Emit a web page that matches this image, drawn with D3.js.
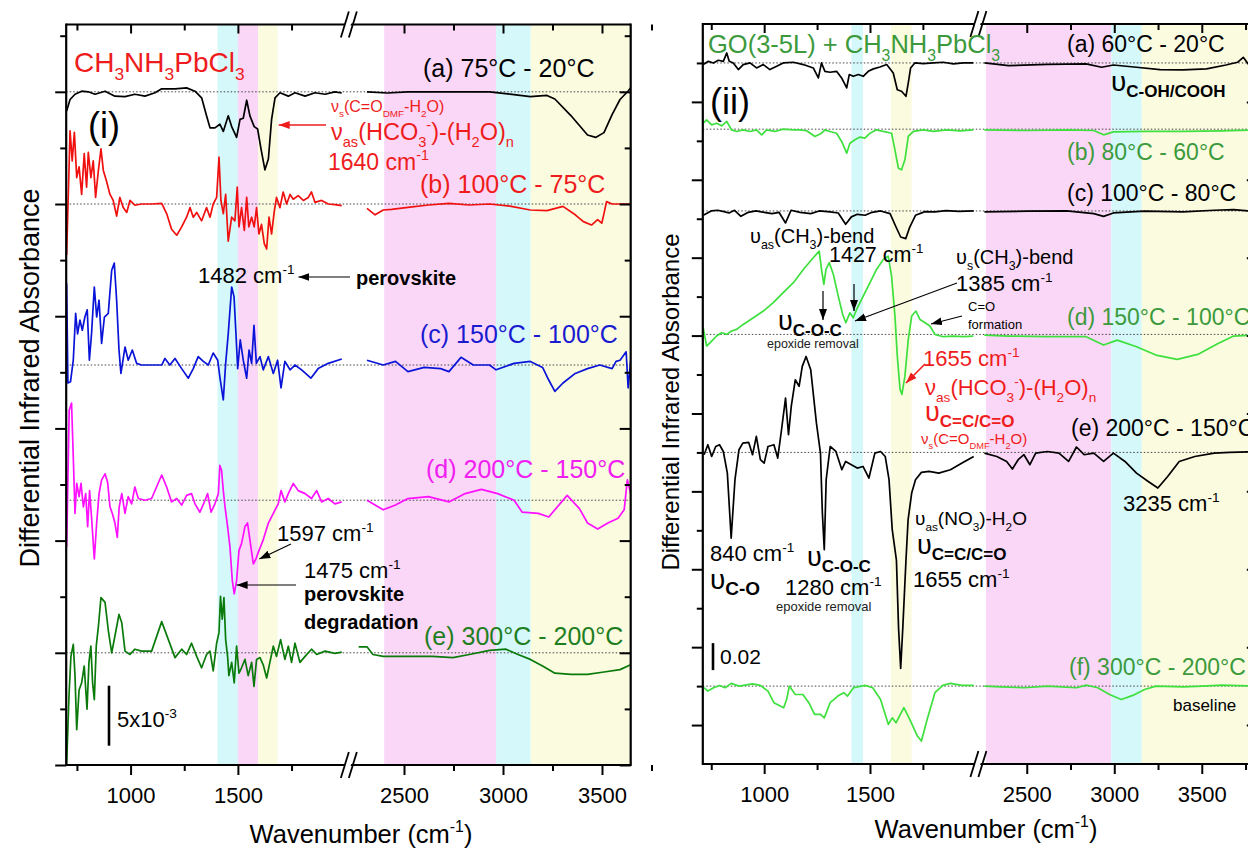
<!DOCTYPE html>
<html>
<head>
<meta charset="utf-8">
<script src="https://cdn.jsdelivr.net/npm/d3@7"></script>
<style>
  body { margin: 0; background: #fff; }
  svg text { font-family: "Liberation Sans", Arial, sans-serif; }
</style>
</head>
<body>
<div id="chart"></div>
<script>
// ---- data: [wavenumber (cm-1), differential absorbance (x1e-3)] ----
var leftA = [[702,-1.6],[718,-0.64],[741,-0.2],[772,0.05],[803,0],[834,-0.2],[881,0.05],[927,-0.36],[974,-0.4],[1020,-0.2],[1067,-0.36],[1114,-0.08],[1145,0.25],[1207,0.25],[1261,0.33],[1300,0.05],[1331,-0.5],[1354,-2.0],[1370,-3.0],[1393,-3.0],[1416,-2.7],[1432,-3.3],[1455,-2.0],[1471,-2.9],[1494,-3.8],[1510,-2.3],[1525,-2.2],[1541,-0.7],[1556,-2.0],[1576,-2.9],[1592,-3.1],[1607,-4.7],[1626,-6.5],[1642,-5.6],[1657,-2.3],[1673,-0.5],[1696,-0.08],[1735,-0.36],[1766,-0.08],[1813,-0.36],[1859,-0.08],[1906,-0.2],[1952,0],[1984,-0.1],
  [2247,-0.17],[2313,0],[2417,-0.1],[2520,0],[2727,0],[2932,0],[3035,-0.2],[3138,-0.4],[3222,-0.3],[3262,-0.6],[3344,-2.0],[3427,-3.6],[3468,-3.8],[3510,-3.4],[3551,-1.9],[3591,-0.64],[3631,0.05],[3645,0.33]];
var leftB = [[702,-4.25],[718,6.1],[728,3.6],[738,5.97],[749,2.2],[760,3.1],[772,0.8],[784,4.2],[795,1.4],[803,4.3],[815,2.2],[826,3.6],[837,0.55],[850,2.8],[862,4.6],[873,2.8],[888,1.9],[904,0.8],[919,0.3],[935,-1.0],[950,0.55],[966,-0.3],[982,-0.7],[997,0.3],[1020,-0.1],[1051,0],[1098,0],[1145,0.05],[1168,-0.8],[1191,-2.1],[1215,-2.6],[1238,-1.9],[1261,-1.1],[1277,-0.3],[1292,-1.1],[1308,-0.7],[1331,-1.4],[1354,-0.3],[1370,-1.1],[1385,0],[1401,0.55],[1412,3.9],[1421,0.3],[1432,-0.8],[1443,0.8],[1455,-3.1],[1471,-1.1],[1486,-1.4],[1497,1.4],[1505,-1.9],[1517,-0.3],[1530,-2.2],[1541,0.55],[1551,-1.9],[1564,-1.1],[1576,-1.9],[1587,-0.3],[1598,-2.5],[1610,-1.7],[1623,-3.3],[1634,-3.75],[1645,-1.1],[1657,-2.5],[1670,-0.55],[1680,0.55],[1696,-0.3],[1711,1.0],[1727,0],[1743,0.8],[1758,0.4],[1781,0.7],[1805,0.3],[1828,0.55],[1843,1.0],[1859,0.14],[1890,0.3],[1921,0],[1952,-0.05],[1984,-0.14],
  [2247,-0.08],[2313,-0.36],[2354,-0.9],[2395,-0.5],[2437,-0.44],[2520,-0.28],[2623,-0.08],[2727,0.05],[2830,-0.08],[2932,0],[3035,-0.17],[3138,-0.5],[3222,-0.55],[3303,-0.2],[3365,-0.9],[3406,-1.47],[3447,-1.75],[3478,-1.3],[3499,-1.6],[3510,-0.8],[3523,0.2],[3551,0],[3645,0]];
var leftC = [[702,6.8],[708,-1.5],[720,-1.4],[733,0.4],[744,4.3],[753,2.6],[764,3.75],[775,2.9],[787,4.0],[798,4.6],[808,0.4],[818,2.6],[831,6.5],[842,4.0],[853,5.4],[865,1.8],[878,4.0],[896,4.3],[912,7.9],[924,8.5],[935,5.4],[946,1.25],[955,-0.7],[974,1.5],[989,0.4],[1008,1.25],[1028,0.14],[1051,0],[1114,0],[1145,0],[1160,0.55],[1183,0],[1207,0.55],[1238,-0.3],[1269,-1.1],[1292,-0.3],[1315,0.7],[1339,0.3],[1362,0],[1385,1.0],[1406,0.4],[1416,-1.0],[1432,-2.9],[1443,0.14],[1455,2.6],[1471,6.5],[1482,5.7],[1491,2.6],[1499,-0.3],[1511,2.1],[1525,0.4],[1541,-1.1],[1552,1.25],[1564,0.14],[1575,3.3],[1586,0.14],[1603,0.7],[1618,-0.4],[1642,0.7],[1665,-0.7],[1685,0.4],[1701,-1.9],[1719,0.3],[1743,-0.4],[1766,0],[1797,-0.4],[1840,-1.1],[1874,-0.3],[1921,0.14],[1984,0.5],
  [2247,0.5],[2313,0.4],[2395,0],[2457,0.3],[2520,-0.55],[2602,-0.2],[2685,-0.3],[2727,-0.55],[2788,0.64],[2850,0],[2932,0],[2965,-0.4],[3056,0.14],[3138,0.3],[3200,-0.2],[3231,-1.25],[3262,-2.2],[3303,-1.5],[3365,-0.7],[3427,-0.3],[3489,0],[3551,-0.3],[3571,0.3],[3591,0.4],[3622,1.1],[3632,-1.9],[3645,0.4]];
var leftD = [[702,-3.9],[714,7.5],[725,8.1],[733,3.6],[741,-1.1],[749,1.4],[760,0.3],[769,1.4],[780,-0.55],[791,0.55],[800,-2.2],[809,0.8],[818,-1.4],[831,-4.9],[842,-1.9],[853,0.55],[865,1.7],[881,2.2],[893,1.5],[904,-0.55],[915,-1.1],[927,-1.9],[938,-3.1],[947,-0.55],[959,0.55],[974,-1.1],[989,0.3],[1005,-0.3],[1020,1.1],[1036,0.14],[1067,0],[1098,0.14],[1145,2.1],[1168,1.1],[1191,-0.14],[1215,0.14],[1238,-0.4],[1261,0.4],[1284,0.55],[1300,-0.3],[1323,-1.0],[1347,0],[1359,0.55],[1375,-1.0],[1393,-0.3],[1409,0.55],[1416,2.9],[1424,2.5],[1432,0.8],[1440,-0.55],[1452,-2.2],[1463,-3.9],[1474,-6.7],[1483,-7.8],[1494,-6.7],[1505,-4.2],[1517,-3.6],[1533,-2.2],[1545,-1.9],[1556,-3.3],[1572,-5.3],[1584,-4.9],[1598,-4.2],[1618,-3.3],[1642,-1.9],[1665,-1.1],[1688,-0.3],[1701,0.8],[1719,-0.14],[1735,0.55],[1758,1.4],[1781,0.8],[1813,0.55],[1843,0.14],[1867,0.8],[1890,-0.14],[1921,0.14],[1952,-0.3],[1984,-0.14],
  [2247,0.14],[2313,0],[2395,-0.8],[2457,-0.4],[2520,0.14],[2623,0.3],[2727,-0.14],[2809,0.55],[2891,0.9],[2973,0.55],[3056,0],[3097,-1.0],[3179,-1.1],[3231,-1.4],[3324,0.4],[3386,-0.7],[3427,-1.9],[3478,-2.4],[3530,-1.9],[3581,-1.5],[3612,-0.8],[3628,1.7],[3645,0.55]];
var leftE = [[702,-9.3],[713,-3.6],[722,-0.3],[733,0.7],[741,-1.9],[749,-6.4],[760,-3.1],[772,-2.5],[784,-1.1],[797,-4.7],[806,-0.8],[815,0.55],[823,-2.5],[831,-3.9],[840,0.55],[850,2.2],[862,4.6],[881,4.2],[896,1.9],[912,0],[927,1.4],[946,3.2],[959,2.5],[974,0.14],[997,-0.14],[1020,0.3],[1051,0.14],[1098,0.14],[1145,2.6],[1176,1.1],[1207,-0.4],[1238,0.3],[1261,-0.14],[1284,0.8],[1308,-0.3],[1331,-1.25],[1354,-0.14],[1370,0.14],[1385,-1.5],[1401,0.8],[1412,1.7],[1419,4.7],[1427,2.8],[1435,4.6],[1443,1.1],[1452,-0.3],[1458,-1.9],[1471,-0.8],[1483,-2.5],[1494,0.55],[1505,-1.7],[1517,-1.25],[1533,-0.55],[1548,-1.9],[1564,-0.8],[1575,-2.8],[1587,-0.55],[1603,-0.4],[1618,-1.0],[1634,-2.1],[1649,-0.8],[1665,0.55],[1680,-0.3],[1699,1.1],[1719,-0.55],[1735,0.55],[1750,-0.8],[1766,0.8],[1789,-0.8],[1813,-0.3],[1843,0.3],[1867,-0.14],[1906,0.14],[1952,-0.05],[1984,0.05],
  [2247,0.3],[2271,0.5],[2313,0.5],[2343,-0.14],[2395,-0.3],[2478,-0.3],[2560,-0.3],[2643,-0.3],[2747,-0.4],[2830,-0.14],[2932,0.2],[3015,0.3],[3076,-0.14],[3138,-0.55],[3200,-1.1],[3262,-1.7],[3344,-1.8],[3427,-1.8],[3510,-1.6],[3591,-1.4],[3645,-1.0]];

var rightA = [[712,-1.2],[736,1.2],[760,0],[783,2],[807,1.2],[823,7.4],[835,1.2],[854,0],[878,-4.9],[901,-1.2],[933,0],[964,-3.7],[996,-1.2],[1027,-4.9],[1059,-2.5],[1090,0],[1138,0.5],[1185,-1.2],[1232,-3.7],[1256,-11.1],[1271,0],[1287,-6.2],[1311,-6.9],[1342,-6.2],[1366,-11.1],[1390,-18.5],[1402,-8.6],[1421,-9.9],[1445,-8.6],[1468,-9.9],[1492,-6.2],[1516,-4.4],[1547,-3],[1579,-1.2],[1610,-7.4],[1629,-19.8],[1649,-21],[1670,-24.7],[1681,-14.8],[1692,-3.7],[1712,0],[1752,-0.5],[1799,0],[1846,0.5],[1894,-0.7],[1941,0],[1988,0],
  [2258,0],[2396,-2],[2618,-1],[2839,-0.7],[2928,-3.2],[2995,-1.5],[3127,-3.2],[3261,-4.9],[3393,-5.2],[3527,-4.4],[3638,-1.5],[3704,0.5],[3737,4.2],[3765,-0.7],[3820,0]];
var rightB = [[712,4.4],[728,6.9],[752,3.2],[775,4.4],[799,2.5],[823,5.7],[846,-0.5],[870,-1.7],[901,-0.5],[933,-1.7],[964,-0.5],[988,-4.2],[1012,-0.5],[1051,-1.7],[1090,0],[1138,-0.5],[1169,-0.5],[1201,-1.2],[1240,-5.4],[1271,-3],[1287,-0.5],[1311,-1.7],[1342,-3],[1366,-9.1],[1390,-17.8],[1405,-10.4],[1429,-7.9],[1453,-5.9],[1476,-6.7],[1500,-3],[1531,-0.5],[1563,-1.7],[1602,-3],[1618,-15.3],[1634,-28.9],[1649,-30.1],[1665,-22.7],[1681,-5.4],[1705,-1.7],[1752,-0.5],[1799,-1.7],[1862,-0.5],[1925,-1.2],[1988,-0.5],
  [2258,-0.5],[2506,-1],[2728,-0.5],[2883,-1],[2939,-4.2],[2995,-2],[3172,-1.7],[3393,-1.7],[3616,-1.2],[3820,-0.5]];
var rightC = [[712,-3.2],[750,0],[780,0.5],[810,-0.5],[834,-1.5],[860,0.5],[890,-4],[925,-1],[961,0],[1000,-1],[1037,-2],[1070,-1],[1101,-8.9],[1127,0.5],[1170,-1],[1220,-2],[1260,0],[1311,-0.7],[1350,-1.5],[1385,-9.9],[1412,-4.4],[1440,-2.5],[1477,-3.2],[1510,-1],[1550,0],[1595,-2],[1623,-11.9],[1645,-19.3],[1669,-20.5],[1688,-11.9],[1715,-3.2],[1760,-0.5],[1807,-0.7],[1860,0.3],[1920,-0.3],[1990,0],
  [2258,-0.7],[2506,-0.2],[2728,0],[2883,-2],[2939,-4],[2995,-1.5],[3172,-0.2],[3393,-0.7],[3571,0.5],[3682,1],[3765,0],[3820,0]];
var rightD = [[712,4.9],[728,-8.6],[752,-4.9],[775,-1.2],[799,1.2],[823,0],[846,2.5],[870,3.7],[901,7.4],[949,12.3],[996,17.3],[1043,23.5],[1090,30.9],[1138,38.3],[1185,48.1],[1232,56.8],[1260,61.7],[1271,48.1],[1282,37],[1292,48.1],[1308,53.1],[1327,44.4],[1350,28.4],[1371,14.8],[1386,8.6],[1405,16],[1421,12.3],[1437,18.5],[1468,28.4],[1500,38.3],[1531,48.1],[1563,55.6],[1586,58],[1602,43.2],[1618,13.6],[1629,-16],[1642,-40.7],[1651,-44.4],[1665,-30.9],[1681,-3.7],[1697,13.6],[1717,17.3],[1736,11.1],[1760,8.6],[1783,6.2],[1807,0],[1846,-1.7],[1894,-1.2],[1941,-1.7],[1988,-1.2],
  [2258,-0.5],[2396,-1.2],[2618,-1.7],[2839,-1.7],[2939,-7.9],[3017,-4.2],[3127,-9.1],[3238,-15.3],[3360,-18.5],[3482,-14.6],[3593,-6.7],[3682,-1.2],[3820,-0.5]];
var rightE = [[716,-1.7],[734,5.7],[752,-3],[771,4.4],[789,5.7],[807,0.7],[826,-15.3],[844,-63.5],[862,-20.2],[881,2],[899,6.9],[927,7.4],[945,-1.7],[963,11.9],[982,-5.4],[1000,-7.9],[1018,4.4],[1046,5.7],[1064,-4.2],[1082,16.8],[1101,40.2],[1115,13.1],[1128,34.1],[1147,53.8],[1165,49],[1180,63.7],[1198,71.1],[1220,61.2],[1247,21.7],[1266,-0.5],[1275,-44.9],[1284,-72.1],[1293,-20.2],[1312,4.4],[1339,0.7],[1367,-12.8],[1385,-6.7],[1412,-9.1],[1440,-11.6],[1467,-10.4],[1495,-19],[1523,-0.5],[1550,0.7],[1572,-3],[1590,-20.2],[1605,-57],[1625,-80],[1635,-130],[1645,-160],[1655,-130],[1670,-80],[1680,-50],[1697,-30.1],[1715,-20.2],[1743,-14.8],[1779,-14.1],[1825,-15.3],[1880,-12.8],[1935,-7.9],[1990,-3],
  [2258,-0.5],[2329,-3],[2385,-6.7],[2418,-12.3],[2451,-5.4],[2484,-1.7],[2518,-9.1],[2551,-0.5],[2618,0.7],[2684,-0.5],[2739,-6.7],[2784,4],[2828,-1.7],[2883,-0.5],[2939,-6.7],[2995,-0.5],[3061,-6.7],[3127,-15.3],[3194,-21.5],[3249,-26.4],[3305,-17.8],[3371,-6.7],[3460,-3],[3571,-0.5],[3660,0],[3820,0.7]];
var rightF = [[716,-1.2],[734,-3.7],[761,-1.2],[789,0.5],[816,-1.2],[844,2],[881,0],[945,1.7],[982,0.5],[1018,-3.7],[1046,-12.3],[1092,-16],[1106,-9.9],[1119,0],[1147,-6.2],[1183,-6.2],[1211,-12.3],[1238,-21],[1266,-21],[1284,-23.5],[1312,-12.3],[1348,-7.4],[1376,-4.9],[1394,-7.4],[1422,-1.2],[1477,0.5],[1513,-1.2],[1550,-9.9],[1587,-28.4],[1605,-23.5],[1623,-27.2],[1660,-16],[1688,-24.7],[1724,-37],[1743,-40.7],[1770,-24.7],[1807,-4.9],[1844,0.5],[1880,2],[1935,0.5],[1990,0.5],
  [2258,0],[2352,-0.5],[2485,-1.2],[2618,0],[2784,-1.2],[2840,0.7],[2906,-1.2],[2973,-6.2],[3040,-9.9],[3106,-6.9],[3173,-2.5],[3239,0],[3394,-0.5],[3505,0],[3616,0.7],[3820,0]];

// offsets of each spectrum (in axis tick units) and labels
var leftOffsets = [12, 10, 7.13, 4.72, 2.0];
var rightOffsets = [18, 16.3, 14.2, 11.03, 8, 2];
var leftLabels = ["(a) 75°C - 20°C", "(b) 100°C - 75°C", "(c) 150°C - 100°C", "(d) 200°C - 150°C", "(e) 300°C - 200°C"];
var rightLabels = ["(a) 60°C - 20°C", "(b) 80°C - 60°C", "(c) 100°C - 80°C", "(d) 150°C - 100°C", "(e) 200°C - 150°C", "(f) 300°C - 200°C"];

// shaded bands [from, to, kind]
var leftBands = [[1405,1500,"c"],[1500,1594,"p"],[1594,1685,"y"],[2400,2965,"p"],[2965,3140,"c"],[3140,3645,"y"]];
var rightBands = [[1412,1467,"c"],[1599,1697,"y"],[2267,2983,"p"],[2983,3157,"c"],[3157,3820,"y"]];

var majorLo = [1000, 1500], minorLo = [750, 1250, 1750];
var majorHi = [2500, 3000, 3500], minorHi = [2750, 3250, 3750];

var bandFill = {c: "#d5f8fb", p: "#fbd7f7", y: "#fbfbe0"};
var RED = "#ee1c1c", GREEN_T = "#3c9a3c";

var width = 1248, height = 851;
var svg = d3.select("#chart").append("svg").attr("width", width).attr("height", height);

var defs = svg.append("defs");
[["arrK", "#000"], ["arrR", RED]].forEach(function(m) {
  defs.append("marker").attr("id", m[0]).attr("markerUnits", "userSpaceOnUse")
    .attr("markerWidth", 12).attr("markerHeight", 10).attr("refX", 11).attr("refY", 4)
    .attr("orient", "auto")
    .append("path").attr("d", "M0,0 L11,4 L0,8 Z").attr("fill", m[1]);
});

// text with sub/superscripts
function rich(g, x, y, parts, o) {
  var t = g.append("text").attr("x", x).attr("y", y)
    .attr("font-size", o.size).attr("fill", o.color || "#000")
    .attr("text-anchor", o.anchor || "start");
  if (o.bold) t.attr("font-weight", "bold");
  var shift = 0;
  parts.forEach(function(p) {
    if (typeof p === "string") p = {t: p};
    var k = p.k || "n";
    var fs = p.fs || (k === "n" ? o.size : o.size * 0.62);
    var target = k === "sub" ? (p.off || o.size * 0.3) : k === "sup" ? -o.size * 0.42 : 0;
    var ts = t.append("tspan").attr("dy", target - shift).attr("font-size", fs).text(p.t);
    if (p.b) ts.attr("font-weight", "bold");
    shift = target;
  });
  return t;
}

function drawPanel(P) {
  var g = svg.append("g");
  var xLo = d3.scaleLinear().domain(P.lo).range(P.loR);
  var xHi = d3.scaleLinear().domain(P.hi).range(P.hiR);
  var x = function(w) { return w <= P.lo[1] ? xLo(w) : xHi(w); };
  var y = d3.scaleLinear().domain(P.yDom).range(P.yR);
  var L = P.loR[0], R = P.hiR[1], T = P.yR[1], B = P.yR[0];

  svg.select("defs").append("clipPath").attr("id", "clip" + P.id)
    .append("rect").attr("x", L).attr("y", T).attr("width", R - L).attr("height", B - T);
  var plot = g.append("g").attr("clip-path", "url(#clip" + P.id + ")");

  plot.selectAll("rect.band").data(P.bands).join("rect")
    .attr("x", function(d) { return x(d[0]); })
    .attr("width", function(d) { return x(d[1]) - x(d[0]); })
    .attr("y", T).attr("height", B - T)
    .attr("fill", function(d) { return bandFill[d[2]]; });

  plot.selectAll("line.base").data(P.offsets).join("line")
    .attr("x1", L).attr("x2", R)
    .attr("y1", function(d) { return y(d); }).attr("y2", function(d) { return y(d); })
    .attr("stroke", "#444").attr("stroke-width", 1).attr("stroke-dasharray", "1.5,2");

  var line = d3.line().x(function(d) { return x(d[0]); }).y(function(d) { return y(d[1]); });
  P.traces.forEach(function(tr, i) {
    var pts = tr.map(function(d) { return [d[0], P.offsets[i] + d[1] / P.k]; });
    var segs = [pts.filter(function(d) { return d[0] <= P.lo[1]; }),
                pts.filter(function(d) { return d[0] >= P.hi[0]; })];
    segs.forEach(function(s) {
      plot.append("path").attr("d", line(s)).attr("fill", "none")
        .attr("stroke", P.colors[i]).attr("stroke-width", 1.7).attr("stroke-linejoin", "round");
    });
  });

  // frame
  var fr = g.append("g").attr("stroke", "#000").attr("stroke-width", 2.2);
  fr.append("line").attr("x1", L).attr("x2", L).attr("y1", T - 1).attr("y2", B + 1);
  fr.append("line").attr("x1", R).attr("x2", R).attr("y1", T - 1).attr("y2", B + 1);
  fr.append("line").attr("x1", L).attr("x2", R).attr("y1", T).attr("y2", T);
  fr.append("line").attr("x1", L).attr("x2", R).attr("y1", B).attr("y2", B);

  function ax(axis, tx, ty) {
    var a = g.append("g").attr("transform", "translate(" + tx + "," + ty + ")").call(axis);
    a.select(".domain").remove();
    a.selectAll("line").attr("stroke", "#000").attr("stroke-width", 2);
    a.selectAll("text").attr("font-size", 22).attr("fill", "#000")
      .attr("font-family", "'Liberation Sans', Arial, sans-serif");
    return a;
  }
  [[xLo, majorLo, minorLo], [xHi, majorHi, minorHi]].forEach(function(s) {
    ax(d3.axisBottom(s[0]).tickValues(s[1]).tickSize(10).tickPadding(12).tickFormat(d3.format("d")), 0, B);
    ax(d3.axisBottom(s[0]).tickValues(s[2]).tickSize(6).tickFormat(""), 0, B);
    ax(d3.axisTop(s[0]).tickValues(s[1]).tickSize(-9).tickFormat(""), 0, T);
    ax(d3.axisTop(s[0]).tickValues(s[2]).tickSize(-6).tickFormat(""), 0, T);
  });
  ax(d3.axisLeft(y).tickValues(P.yMajor).tickSize(11).tickFormat(""), L, 0);
  ax(d3.axisLeft(y).tickValues(P.yMinor).tickSize(6).tickFormat(""), L, 0);
  ax(d3.axisRight(y).tickValues(P.yMajor).tickSize(-11).tickFormat(""), R, 0);
  ax(d3.axisRight(y).tickValues(P.yMinor).tickSize(-6).tickFormat(""), R, 0);

  // axis break marks
  var cx = (P.loR[1] + P.hiR[0]) / 2;
  [T, B].forEach(function(yy) {
    g.append("path").attr("d", "M" + (cx - 9) + "," + (yy + 12) + " L" + (cx - 1) + "," + (yy - 12) +
      " L" + (cx + 5) + "," + (yy - 12) + " L" + (cx - 3) + "," + (yy + 12) + " Z").attr("fill", "#fff");
    [-6, 2].forEach(function(dx) {
      g.append("line").attr("x1", cx + dx - 3).attr("y1", yy + 13).attr("x2", cx + dx + 5).attr("y2", yy - 13)
        .attr("stroke", "#000").attr("stroke-width", 1.8);
    });
  });

  // scale bar
  g.append("line").attr("x1", P.bar.x).attr("x2", P.bar.x)
    .attr("y1", y(P.bar.y0)).attr("y2", y(P.bar.y0 + P.bar.len / P.k))
    .attr("stroke", "#000").attr("stroke-width", 2.6);

  // axis titles
  rich(g, P.xTitle[0], P.xTitle[1], ["Wavenumber (cm", {t: "-1", k: "sup"}, ")"], {size: 25.5, anchor: "middle"});
  g.append("text").attr("transform", "translate(" + P.yTitle[0] + "," + P.yTitle[1] + ") rotate(-90)")
    .attr("text-anchor", "middle").attr("font-size", P.yTitle[2]).text("Differential Infrared Absorbance");

  return {g: g, x: x, y: y};
}

// ---------- panel (i) ----------
var p1 = drawPanel({
  id: 1, lo: [700, 2000], loR: [66.2, 345.2], hi: [2250, 3645], hiR: [354.5, 630.7],
  yDom: [0, 13.2], yR: [765, 24.5], k: 4.675,
  yMajor: [0, 2, 4, 6, 8, 10, 12], yMinor: [1, 3, 5, 7, 9, 11, 13],
  bands: leftBands, offsets: leftOffsets,
  traces: [leftA, leftB, leftC, leftD, leftE],
  colors: ["#000", "#f01010", "#0a14d8", "#ff10ff", "#0a7a0a"],
  bar: {x: 109, y0: 0.344, len: 5}, xTitle: [361, 843], yTitle: [39, 378, 27]
});

// ---------- panel (ii) ----------
var p2 = drawPanel({
  id: 2, lo: [710, 2000], loR: [702.8, 975.8], hi: [2250, 3820], hiR: [983, 1257.8],
  yDom: [0, 19], yR: [764, 24], k: 28.85,
  yMajor: [1, 3, 5, 7, 9, 11, 13, 15, 17], yMinor: [2, 4, 6, 8, 10, 12, 14, 16, 18],
  bands: rightBands, offsets: rightOffsets,
  traces: [rightA, rightB, rightC, rightD, rightE, rightF],
  colors: ["#000", "#3ee03e", "#000", "#3ee03e", "#000", "#3ee03e"],
  bar: {x: 713, y0: 2.41, len: 20}, xTitle: [986, 838], yTitle: [679, 402, 24]
});

// ---------- annotations panel (i) ----------
var a1 = svg.append("g");
var leftLabelPos = [[423, 77], [420, 193], [420, 343], [426, 478], [424, 645]];
var leftLabelCol = ["#000", RED, "#1a1ad0", "#f020f0", "#1f7f1f"];
leftLabels.forEach(function(s, i) {
  rich(a1, leftLabelPos[i][0], leftLabelPos[i][1], [s], {size: 25, color: leftLabelCol[i]});
});
rich(a1, 74, 72, ["CH", {t: "3", k: "sub"}, "NH", {t: "3", k: "sub"}, "PbCl", {t: "3", k: "sub"}], {size: 28, color: RED});
rich(a1, 88, 138, ["(i)"], {size: 36});
rich(a1, 331, 112, ["ν", {t: "s", k: "sub"}, "(C=O", {t: "DMF", k: "sub"}, "-H", {t: "2", k: "sub"}, "O)"], {size: 16, color: RED});
rich(a1, 331, 140, ["ν", {t: "as", k: "sub"}, "(HCO", {t: "3", k: "sub"}, {t: "-", k: "sup"}, ")-(H", {t: "2", k: "sub"}, "O)", {t: "n", k: "sub"}], {size: 23.5, color: RED});
rich(a1, 328, 170, ["1640 cm", {t: "-1", k: "sup"}], {size: 23, color: RED});
rich(a1, 198, 283, ["1482 cm", {t: "-1", k: "sup"}], {size: 22});
rich(a1, 356, 285, ["perovskite"], {size: 20, bold: true});
rich(a1, 277, 541, ["1597 cm", {t: "-1", k: "sup"}], {size: 22});
rich(a1, 304, 578, ["1475 cm", {t: "-1", k: "sup"}], {size: 22});
rich(a1, 304, 601, ["perovskite"], {size: 20, bold: true});
rich(a1, 304, 629, ["degradation"], {size: 20, bold: true});
rich(a1, 117, 727, ["5x10", {t: "-3", k: "sup"}], {size: 22});

function arrow(g, x1, y1, x2, y2, col, mk) {
  g.append("line").attr("x1", x1).attr("y1", y1).attr("x2", x2).attr("y2", y2)
    .attr("stroke", col).attr("stroke-width", col === "#000" ? 1.2 : 1.6).attr("marker-end", "url(#" + mk + ")");
}
arrow(a1, 326, 125, p1.x(1690), 125, RED, "arrR");
arrow(a1, 350, 277, p1.x(1782), 277, "#000", "arrK");
arrow(a1, 291, 544, p1.x(1600), 559, "#000", "arrK");
arrow(a1, 296, 585, p1.x(1494), 585, "#000", "arrK");

// ---------- annotations panel (ii) ----------
var a2 = svg.append("g");
var rightLabelPos = [[1067, 52], [1067, 160], [1067, 201], [1067, 325], [1071, 436], [1069, 675]];
var rightLabelCol = ["#000", GREEN_T, "#000", GREEN_T, "#000", GREEN_T];
rightLabels.forEach(function(s, i) {
  rich(a2, rightLabelPos[i][0], rightLabelPos[i][1], [s], {size: 23, color: rightLabelCol[i]});
});
rich(a2, 708, 53, ["GO(3-5L) + CH", {t: "3", k: "sub"}, "NH", {t: "3", k: "sub"}, "PbCl", {t: "3", k: "sub"}], {size: 25.5, color: GREEN_T});
rich(a2, 710, 114, ["(ii)"], {size: 36});
rich(a2, 1111, 91, ["υ", {t: "C-OH/COOH", k: "sub", fs: 17, b: true, off: 6}], {size: 28});
rich(a2, 750, 243, ["υ", {t: "as", k: "sub"}, "(CH", {t: "3", k: "sub"}, ")-bend"], {size: 20});
rich(a2, 829, 262, ["1427 cm", {t: "-1", k: "sup"}], {size: 21.5});
rich(a2, 956, 264, ["υ", {t: "s", k: "sub"}, "(CH", {t: "3", k: "sub"}, ")-bend"], {size: 20});
rich(a2, 956, 291, ["1385 cm", {t: "-1", k: "sup"}], {size: 22});
rich(a2, 778, 330, ["υ", {t: "C-O-C", k: "sub", fs: 17, b: true, off: 6}], {size: 27});
rich(a2, 767, 348, ["epoxide removal"], {size: 12.5, color: "#222"});
rich(a2, 968, 311, ["C=O"], {size: 13});
rich(a2, 968, 329, ["formation"], {size: 13});
rich(a2, 923, 366, ["1655 cm", {t: "-1", k: "sup"}], {size: 22, color: RED});
rich(a2, 925, 395, ["ν", {t: "as", k: "sub"}, "(HCO", {t: "3", k: "sub"}, {t: "-", k: "sup"}, ")-(H", {t: "2", k: "sub"}, "O)", {t: "n", k: "sub"}], {size: 22, color: RED});
rich(a2, 925, 421, ["υ", {t: "C=C/C=O", k: "sub", fs: 17, b: true, off: 6}], {size: 27, color: RED});
rich(a2, 921, 444, ["ν", {t: "s", k: "sub"}, "(C=O", {t: "DMF", k: "sub"}, "-H", {t: "2", k: "sub"}, "O)"], {size: 15, color: RED});
rich(a2, 1123, 511, ["3235 cm", {t: "-1", k: "sup"}], {size: 22});
rich(a2, 915, 525, ["υ", {t: "as", k: "sub"}, "(NO", {t: "3", k: "sub"}, ")-H", {t: "2", k: "sub"}, "O"], {size: 19});
rich(a2, 917, 554, ["υ", {t: "C=C/C=O", k: "sub", fs: 17, b: true, off: 6}], {size: 27});
rich(a2, 913, 587, ["1655 cm", {t: "-1", k: "sup"}], {size: 22});
rich(a2, 710, 561, ["840 cm", {t: "-1", k: "sup"}], {size: 22});
rich(a2, 710, 589, ["υ", {t: "C-O", k: "sub", fs: 19, b: true, off: 6}], {size: 28});
rich(a2, 807, 566, ["υ", {t: "C-O-C", k: "sub", fs: 17, b: true, off: 6}], {size: 27});
rich(a2, 785, 595, ["1280 cm", {t: "-1", k: "sup"}], {size: 22});
rich(a2, 776, 611, ["epoxide removal"], {size: 13, color: "#222"});
rich(a2, 720, 664, ["0.02"], {size: 21});
rich(a2, 1173, 711, ["baseline"], {size: 17});

arrow(a2, 823, 291, 823, 320, "#000", "arrK");
arrow(a2, 854, 284, 854, 311, "#000", "arrK");
arrow(a2, 957, 283, 855, 321, "#000", "arrK");
arrow(a2, 962, 316, 931, 324, "#000", "arrK");
arrow(a2, 925, 364, 906, 383, RED, "arrR");
</script>
</body>
</html>
